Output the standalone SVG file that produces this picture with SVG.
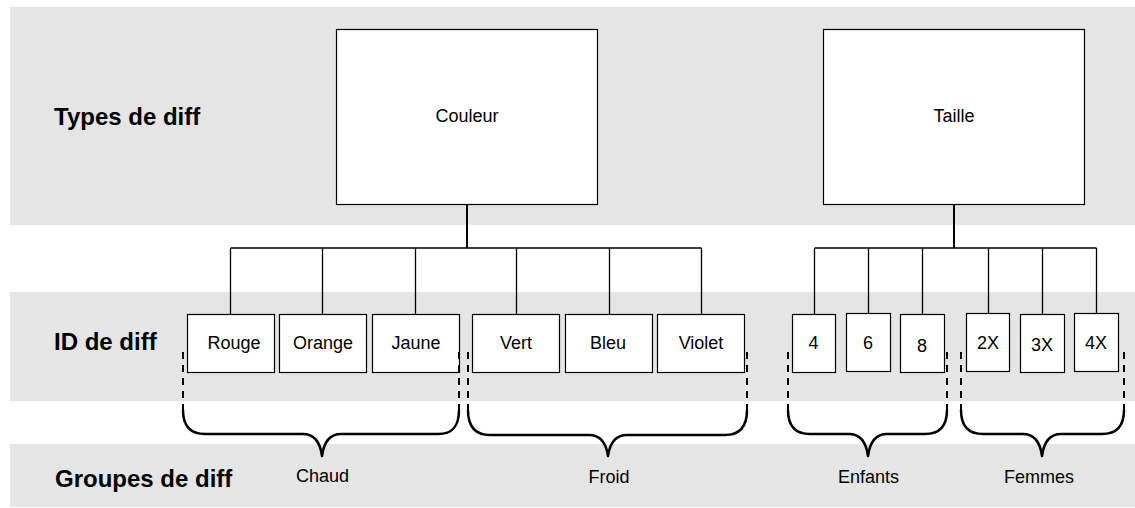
<svg xmlns="http://www.w3.org/2000/svg" width="1135" height="508" viewBox="0 0 1135 508">
  <style>
    .band { fill: #e5e5e5; }
    .box { fill: #ffffff; stroke: #000000; stroke-width: 1.2; }
    .lbl { font-family: "Liberation Sans", Arial, sans-serif; font-size: 24px; font-weight: bold; fill: #000000; }
    .txt { font-family: "Liberation Sans", Arial, sans-serif; font-size: 18px; fill: #000000; text-anchor: middle; }
    .wire { fill: none; stroke: #000000; stroke-width: 1.3; }
    .stem { fill: none; stroke: #000000; stroke-width: 2; }
    .dash { fill: none; stroke: #000000; stroke-width: 2; stroke-dasharray: 7 6; }
    .brace { fill: none; stroke: #000000; stroke-width: 2.5; stroke-linejoin: round; }
  </style>

  <!-- row backgrounds -->
  <g id="bands">
    <rect class="band" x="10" y="7" width="1125" height="218"/>
    <rect class="band" x="10" y="292" width="1125" height="109"/>
    <rect class="band" x="10" y="444" width="1125" height="63"/>
  </g>

  <!-- row labels -->
  <g id="row-labels">
    <text class="lbl" x="54" y="125">Types de diff</text>
    <text class="lbl" x="54" y="350">ID de diff</text>
    <text class="lbl" x="55" y="487">Groupes de diff</text>
  </g>

  <!-- tree connectors -->
  <g id="connectors">
    <path class="stem" d="M467,204 V248"/>
    <path class="wire" d="M230.5,248 H701.5 M230.5,248 V314 M322.5,248 V314 M415.5,248 V314 M516.5,248 V314 M609.5,248 V314 M701.5,248 V314"/>
    <path class="stem" d="M954,204 V248"/>
    <path class="wire" d="M814.5,248 H1096.5 M814.5,248 V314 M868.5,248 V313 M922.5,248 V314 M988.5,248 V313 M1042.5,248 V314 M1096.5,248 V313"/>
  </g>

  <!-- type nodes -->
  <g id="node-couleur">
    <rect class="box" x="336.5" y="29.5" width="261" height="175"/>
    <text class="txt" x="467" y="122">Couleur</text>
  </g>
  <g id="node-taille">
    <rect class="box" x="823.5" y="29.5" width="261" height="175"/>
    <text class="txt" x="954" y="122">Taille</text>
  </g>

  <!-- ID nodes -->
  <g id="node-rouge">
    <rect class="box" x="187.5" y="314.5" width="87" height="58"/>
    <text class="txt" x="234" y="349">Rouge</text>
  </g>
  <g id="node-orange">
    <rect class="box" x="279.5" y="314.5" width="87" height="58"/>
    <text class="txt" x="323" y="349">Orange</text>
  </g>
  <g id="node-jaune">
    <rect class="box" x="372.5" y="314.5" width="87" height="58"/>
    <text class="txt" x="416" y="349">Jaune</text>
  </g>
  <g id="node-vert">
    <rect class="box" x="472.5" y="314.5" width="87" height="58"/>
    <text class="txt" x="516" y="349">Vert</text>
  </g>
  <g id="node-bleu">
    <rect class="box" x="565.5" y="314.5" width="87" height="58"/>
    <text class="txt" x="608" y="349">Bleu</text>
  </g>
  <g id="node-violet">
    <rect class="box" x="657.5" y="314.5" width="87" height="58"/>
    <text class="txt" x="701" y="349">Violet</text>
  </g>
  <g id="node-4">
    <rect class="box" x="792.5" y="314.5" width="43" height="58"/>
    <text class="txt" x="813.5" y="349">4</text>
  </g>
  <g id="node-6">
    <rect class="box" x="846.5" y="313.5" width="44" height="58"/>
    <text class="txt" x="868" y="349">6</text>
  </g>
  <g id="node-8">
    <rect class="box" x="900.5" y="314.5" width="44" height="58"/>
    <text class="txt" x="922" y="352">8</text>
  </g>
  <g id="node-2x">
    <rect class="box" x="966.5" y="313.5" width="43" height="58"/>
    <text class="txt" x="988" y="349">2X</text>
  </g>
  <g id="node-3x">
    <rect class="box" x="1020.5" y="314.5" width="44" height="58"/>
    <text class="txt" x="1042" y="351">3X</text>
  </g>
  <g id="node-4x">
    <rect class="box" x="1074.5" y="313.5" width="44" height="58"/>
    <text class="txt" x="1096" y="349">4X</text>
  </g>

  <!-- group brackets: dashed guides and braces -->
  <g id="group-chaud">
    <path class="dash" d="M183,352 V410 M459,352 V410"/>
    <path class="brace" d="M183,410 C183,426 190,434 205,434 H303 C314,434 320,441 322,456 C324,441 330,434 341,434 H438 C453,434 459,426 459,410"/>
    <text class="txt" x="322.5" y="482">Chaud</text>
  </g>
  <g id="group-froid">
    <path class="dash" d="M468,352 V410 M747,352 V410"/>
    <path class="brace" d="M468,410 C468,426 475,435 490,435 H589 C600,435 606,442 608,456 C610,442 616,435 627,435 H725 C740,435 747,426 747,410"/>
    <text class="txt" x="609" y="483">Froid</text>
  </g>
  <g id="group-enfants">
    <path class="dash" d="M788,352 V410 M947,352 V410"/>
    <path class="brace" d="M788,410 C788,426 795,434 810,434 H849 C860,434 866,441 868,456 C870,441 876,434 887,434 H925 C940,434 947,426 947,410"/>
    <text class="txt" x="868.5" y="483">Enfants</text>
  </g>
  <g id="group-femmes">
    <path class="dash" d="M961,352 V410 M1124,352 V410"/>
    <path class="brace" d="M961,410 C961,426 968,434 983,434 H1023 C1034,434 1040,441 1042,456 C1044,441 1050,434 1061,434 H1102 C1117,434 1124,426 1124,410"/>
    <text class="txt" x="1039" y="483">Femmes</text>
  </g>
</svg>
